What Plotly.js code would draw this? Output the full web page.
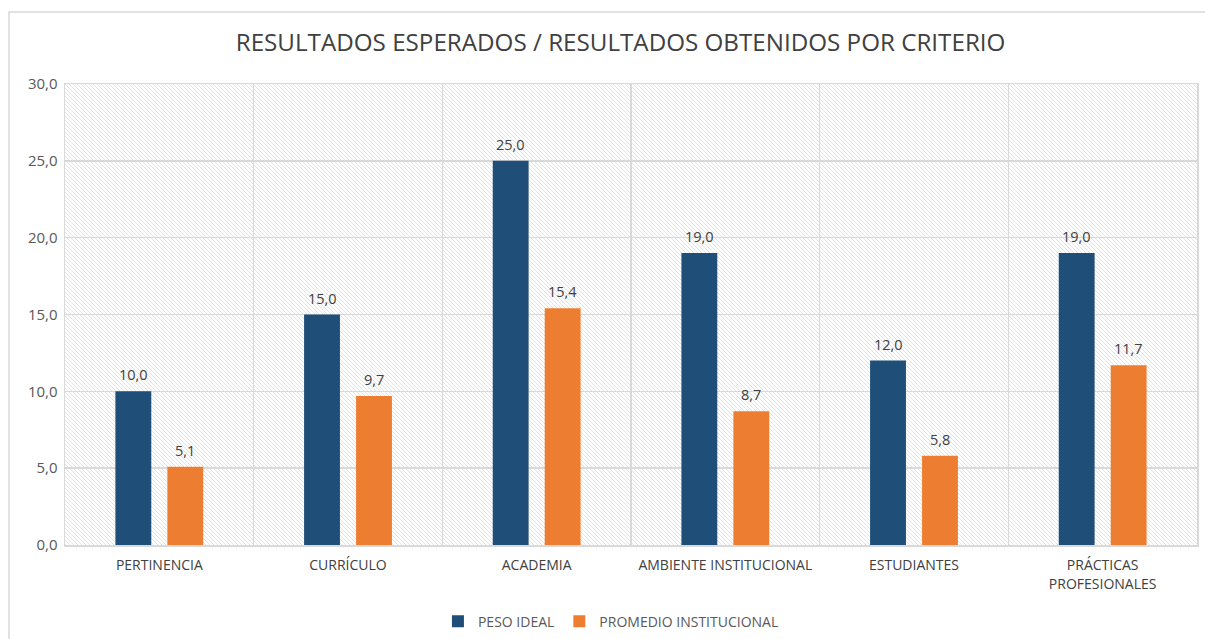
<!DOCTYPE html>
<html>
<head>
<meta charset="utf-8">
<script src="https://cdn.plot.ly/plotly-3.0.1.min.js"></script>
<style>html,body{margin:0;padding:0;background:#fff;}#chart{width:1205px;height:639px;}</style>
</head>
<body>
<div id="chart"></div>
<script>
const categories = ["PERTINENCIA", "CURRÍCULO", "ACADEMIA", "AMBIENTE INSTITUCIONAL", "ESTUDIANTES", "PRÁCTICAS<br>PROFESIONALES"];
const pesoIdeal = [10.0, 15.0, 25.0, 19.0, 12.0, 19.0];
const promedioInstitucional = [5.1, 9.7, 15.4, 8.7, 5.8, 11.7];
const seriesNames = ["PESO IDEAL", "PROMEDIO INSTITUCIONAL"];

const hatch = 'data:image/svg+xml;utf8,' + encodeURIComponent(
  '<svg xmlns="http://www.w3.org/2000/svg" width="1132" height="461">' +
  '<defs><pattern id="p" width="4" height="4" patternUnits="userSpaceOnUse">' +
  '<path d="M-1,-1 L5,5 M-1,3 L1,5 M3,-1 L5,1" stroke="#e2e2e2" stroke-width="1"/></pattern></defs>' +
  '<rect width="1132" height="461" fill="#fff"/><rect width="1132" height="461" fill="url(#p)"/></svg>');

const font = "Open Sans, Liberation Sans, sans-serif";
const fmt = v => v.toFixed(1).replace(".", ",");

const data = [
  {type: "bar", name: seriesNames[0], x: categories, y: pesoIdeal,
   marker: {color: "#1f4e79"}, hoverinfo: "y"},
  {type: "bar", name: seriesNames[1], x: categories, y: promedioInstitucional,
   marker: {color: "#ed7d31"}, hoverinfo: "y"}
];

const annotations = [];
[pesoIdeal, promedioInstitucional].forEach((vals, s) => {
  vals.forEach((v, i) => {
    annotations.push({x: categories[i], y: v, xref: "x", yref: "y", text: fmt(v), showarrow: false,
      xanchor: "center", yanchor: "bottom", xshift: s === 0 ? -26 : 26, yshift: 5,
      font: {size: 14.5, color: "#404040", family: font}});
  });
});

const layout = {
  width: 1205, height: 639,
  margin: {l: 65, r: 8, t: 84, b: 94},
  paper_bgcolor: "rgba(0,0,0,0)", plot_bgcolor: "rgba(0,0,0,0)",
  separators: ",.",
  font: {family: font, color: "#595959", size: 14},
  title: {text: "RESULTADOS ESPERADOS / RESULTADOS OBTENIDOS POR CRITERIO",
          font: {size: 24.2, color: "#404040", family: font}, x: 0.515, xanchor: "center", y: 0.933, yanchor: "middle"},
  barmode: "group", bargap: 0.449, bargroupgap: 0.31,
  xaxis: {tickson: "boundaries", showgrid: true, gridcolor: "#d9d9d9", gridwidth: 1.5,
          ticks: "", showline: true, linecolor: "#d9d9d9", linewidth: 1.5, mirror: true,
          ticklabelstandoff: 7, automargin: false,
          tickfont: {size: 14, color: "#404040"}, fixedrange: true},
  yaxis: {range: [0, 30], dtick: 5, tickformat: ".1f", showgrid: true, gridcolor: "#d9d9d9", gridwidth: 1.5,
          showline: true, linecolor: "#d9d9d9", linewidth: 1.5, mirror: true, zeroline: false,
          ticks: "outside", ticklen: 3, tickcolor: "rgba(0,0,0,0)", automargin: false,
          tickfont: {size: 15, color: "#595959"}, fixedrange: true},
  legend: {orientation: "h", xref: "container", yref: "container", x: 0.507, xanchor: "center", y: 0.027, yanchor: "middle",
           font: {size: 14, color: "#595959"}, itemwidth: 30},
  annotations: annotations,
  images: [{source: hatch, xref: "paper", yref: "paper", x: 0, y: 1, sizex: 1, sizey: 1,
            xanchor: "left", yanchor: "top", sizing: "stretch", layer: "below"}],
  shapes: [{type: "rect", xref: "paper", yref: "paper", x0: -0.0495, x1: 1.015, y0: -0.23, y1: 1.156,
            line: {color: "#d9d9d9", width: 1.5}, fillcolor: "rgba(0,0,0,0)", layer: "below"}],
  showlegend: true
};
Plotly.newPlot("chart", data, layout, {displayModeBar: false, staticPlot: true});
</script>
</body>
</html>
